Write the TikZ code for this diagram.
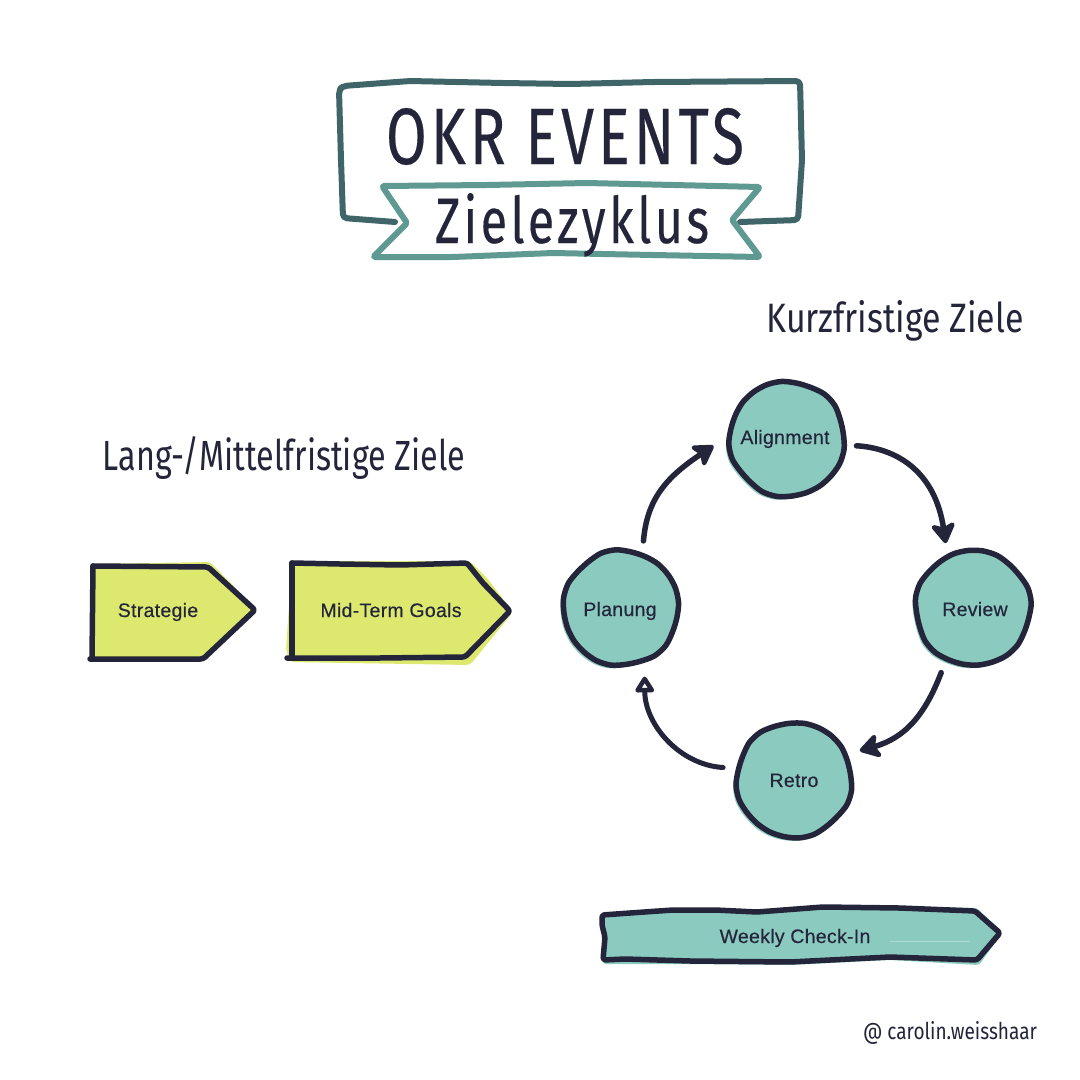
\documentclass[tikz,border=0pt]{standalone}
\usepackage{fontspec}
\usepackage{graphicx}
\usetikzlibrary{arrows.meta}
\setmainfont{Liberation Sans}
\newfontfamily\labelfont[FakeBold=0.4,LetterSpace=1.5]{Liberation Sans}
\newfontfamily\handfont{Fira Sans}
\newfontfamily\titlefont[LetterSpace=7,FakeBold=0.3]{Fira Sans}
\definecolor{ink}{HTML}{24253B}
\definecolor{teal}{HTML}{8BCBBF}
\definecolor{lime}{HTML}{DDE96E}
\definecolor{framecol}{HTML}{3F6568}
\definecolor{ribboncol}{HTML}{5F9A92}
\tikzset{
  outline/.style={draw=ink,line width=5.5pt,line join=round,line cap=round,rounded corners=2.5pt},
  framestroke/.style={draw=framecol,line width=6pt,line join=round,line cap=round,rounded corners=4pt},
  ribbonstroke/.style={draw=ribboncol,line width=6pt,line join=round,line cap=round,rounded corners=1.5pt,fill=white},
  labeltext/.style={font=\labelfont\fontsize{19.5}{21}\selectfont,text=ink,inner sep=0pt,text height=14pt,text depth=0pt},
  circlabel/.style={labeltext,circle,minimum size=144pt,outer sep=0pt},
  handtext/.style={text=ink,inner sep=0pt,anchor=base},
  flow/.style={draw=ink,line width=5.5pt,line cap=round,-{Stealth[length=24pt,width=29pt,inset=6pt,round]}},
  flowopen/.style={draw=ink,line width=5pt,line cap=round,-{Triangle[open,length=18pt,width=21pt,round,fill=white]}}
}
\newcommand{\wobfill}[4]{\fill[teal] plot[smooth cycle,samples at={0,15,...,345},variable=\t] ({#1-3+(#3+0.8*sin(5*\t)+0.5*cos(7*\t))*cos(\t+#4)},{#2+3+(#3+0.8*sin(5*\t)+0.5*cos(7*\t))*sin(\t+#4)});}
\newcommand{\wobline}[4]{\draw[draw=ink,line width=5.5pt,fill=teal] plot[smooth cycle,samples at={0,15,...,345},variable=\t] ({#1+(#3+0.8*sin(5*\t)+0.5*cos(7*\t))*cos(\t+#4)},{#2+(#3+0.8*sin(5*\t)+0.5*cos(7*\t))*sin(\t+#4)});}
\begin{document}
\begin{tikzpicture}[x=1pt,y=-1pt]
\useasboundingbox (0,0) rectangle (1080,1080);
\fill[white] (0,0) rectangle (1080,1080);

% title banner
\draw[framestroke] (395,222) -- (343,218) -- (341,160) -- (339,90) -- (343,86) -- (410,81) -- (503,83) -- (570,84) -- (653,82) -- (800,81) -- (802,160) -- (798,220) -- (740,222);
\draw[ribbonstroke] (382,186) -- (487,185) -- (587,183) -- (760,187) -- (732,220) -- (760,257) -- (653,255) -- (553,253) -- (453,257) -- (373,257) -- (407,223) -- cycle;
\node[handtext] (title) at (565,164) {\resizebox{358pt}{56pt}{\titlefont OKR EVENTS}};
\node[handtext] (subtitle) at (572,243) {\resizebox{274pt}{50pt}{\titlefont Zielezyklus}};

% hand labels
\node[handtext] (short) at (895,332) {\resizebox{257pt}{32pt}{\handfont Kurzfristige Ziele}};
\node[handtext] (long) at (284,470) {\resizebox{362pt}{34pt}{\handfont Lang-/Mittelfristige Ziele}};

% left arrows
\fill[lime,rounded corners=3pt] (93,564) -- (210,562) -- (257,610) -- (205,661) -- (90,660) -- cycle;
\draw[outline] (93,566) -- (208,567) -- (255,610) -- (203,659) -- (90,659);
\draw[outline] (93,566) -- (92,659);
\fill[lime,rounded corners=4pt] (292,561) -- (470,561) -- (487,578) -- (513,612) -- (470,665) -- (290,662) -- (286,650) -- cycle;
\draw[outline] (292,563) -- (340,564) -- (400,565) -- (467,563) -- (483,583) -- (510,611) -- (465,657) -- (380,658) -- (287,658);
\draw[outline] (292,563) -- (292,658);
\node[labeltext] (strategie) at (158,610) {Strategie};
\node[labeltext] (midterm) at (391,610) {Mid-Term Goals};

% cycle
\wobfill{787}{439}{57.5}{10}
\wobfill{973}{608}{57.5}{40}
\wobfill{794}{780}{57.5}{70}
\wobfill{621}{608}{57.5}{100}
\wobline{787}{439}{57.5}{10}
\wobline{973}{608}{57.5}{40}
\wobline{794}{780}{57.5}{70}
\wobline{621}{608}{57.5}{100}
\node[circlabel] (alignment) at (785,437) {Alignment};
\node[circlabel] (review) at (975,609) {Review};
\node[circlabel] (retro) at (794,780) {Retro};
\node[circlabel] (planung) at (620,609) {Planung};
\draw[flow] (planung.71) .. controls (647,500) and (665,478) .. (alignment.187);
\draw[flow] (alignment.-7) .. controls (895,448) and (935,470) .. (review.114);
\draw[flow] (review.242) .. controls (925,715) and (905,738) .. (retro.24);
\draw[flowopen] (retro.170) .. controls (680,765) and (645,725) .. (planung.-70);

% weekly bar
\fill[teal,rounded corners=3pt] (601,913) -- (673,908) -- (757,910) -- (823,905) -- (977,908) -- (1002,933) -- (979,965) -- (890,960) -- (790,965) -- (690,964) -- (603,964) -- cycle;
\draw[outline] (602,915) -- (630,913) -- (673,910) -- (715,910) -- (757,912) -- (823,907) -- (900,908) -- (975,911) -- (1000,933) -- (977,960) -- (890,957) -- (790,962) -- (690,961) -- (625,959) -- (603,960) -- (605,937) -- (602,925) -- cycle;
\draw[draw=white,opacity=0.3,line width=0.6pt] (890,941) -- (970,941);
\node[labeltext] (weekly) at (795,936) {Weekly Check-In};

% signature
\node[handtext] (credit) at (950,1039) {\resizebox{174pt}{18pt}{\handfont @ carolin.weisshaar}};
\end{tikzpicture}
\end{document}
